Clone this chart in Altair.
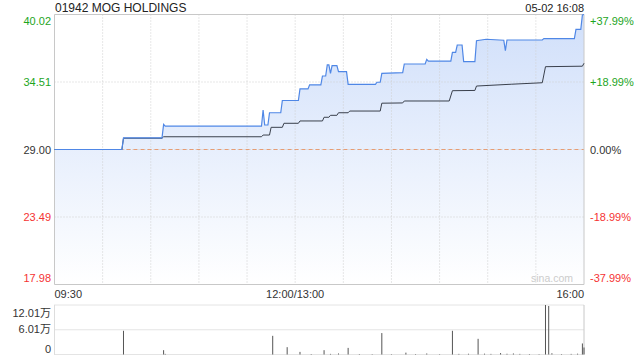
import altair as alt
import pandas as pd

FONT = "'Liberation Sans', Arial, 'Noto Sans CJK SC', sans-serif"

title_text = "01942 MOG HOLDINGS"
stamp_text = "05-02 16:08"
watermark_text = "sina.com"
prev_close = 29.00

# (minute since 09:30 on the trading clock, price)
price_points = [
    (0, 29.00), (42, 29.00), (43, 29.95), (67, 29.95), (68, 31.05), (69, 30.90),
    (129, 30.90), (130, 32.22), (131, 31.00), (133, 31.00), (134, 32.00), (141, 32.00),
    (142, 33.00), (152, 33.00), (153, 33.95), (158, 33.95), (159, 34.28), (166, 34.28),
    (167, 35.00), (169, 35.00), (170, 35.90), (171, 35.90), (172, 35.22), (173, 35.85),
    (176, 35.85), (177, 35.35), (182, 35.35), (183, 34.32), (200, 34.32), (201, 34.49),
    (203, 34.49), (204, 35.22), (217, 35.27), (218, 35.98), (231, 35.98), (232, 36.36),
    (233, 36.22), (247, 36.22), (248, 36.93), (250, 36.93), (251, 37.53), (254, 37.53),
    (255, 36.17), (262, 36.17), (263, 37.88), (269, 38.00), (280, 37.92), (281, 37.07),
    (282, 37.94), (304, 37.94), (305, 38.05), (324, 38.05), (325, 38.81), (328, 38.81),
    (329, 39.98), (330, 40.02),
]

avg_points = [
    (0, 29.00), (42, 29.00), (43, 29.92), (67, 29.92), (68, 30.04), (129, 30.04),
    (130, 30.18), (134, 30.18), (135, 30.81), (142, 30.81), (143, 31.14), (152, 31.14),
    (153, 31.33), (167, 31.33), (168, 31.63), (171, 31.63), (172, 31.79), (176, 31.79),
    (177, 32.00), (183, 32.00), (184, 32.14), (203, 32.14), (204, 32.78), (217, 32.80),
    (218, 32.96), (246, 32.96), (248, 33.80), (262, 33.82), (263, 34.18), (285, 34.33),
    (304, 34.45), (306, 35.76), (329, 35.80), (330, 36.04),
]

vol_points = [
    (43, 57500), (68, 10500), (69, 1500), (136, 45300), (145, 17800), (153, 6300),
    (160, 1200), (168, 10500), (172, 1500), (177, 2500), (183, 16000), (190, 1200),
    (198, 1000), (204, 52000), (210, 1000), (219, 4500), (225, 1200), (232, 2500),
    (240, 1000), (248, 57500), (252, 1500), (258, 1800), (264, 38000), (268, 2000),
    (272, 1500), (278, 3500), (282, 1800), (286, 2500), (290, 1500), (296, 1200),
    (302, 1000), (306, 120100), (308, 117700), (310, 3000), (316, 1200), (322, 1500),
    (326, 2000), (329, 26800), (330, 17000),
]

price_ticks = [40.02, 34.51, 29.00, 23.49, 17.98]
price_tick_labels = ["40.02", "34.51", "29.00", "23.49", "17.98"]
pct_tick_labels = ["+37.99%", "+18.99%", "0.00%", "-18.99%", "-37.99%"]
vol_ticks = [120100, 60050, 0]
vol_tick_labels = ["12.01万", "6.01万", "0"]
time_ticks = [0, 150, 330]
time_tick_labels = ["09:30", "12:00/13:00", "16:00"]
grid_minutes = [30, 60, 90, 120, 150, 180, 210, 240, 270, 300]

# ---- layout ----
X0, X1 = 54.5, 584
PY0, PY1 = 14.5, 284.5
VY0, VY1 = 305, 354.5
GREEN, RED, DARK = "#1da51d", "#f53333", "#333333"

xs = alt.Scale(domain=[0, 330], range=[X0, X1], nice=False, zero=False)
ps = alt.Scale(domain=[17.98, 40.02], range=[PY1, PY0], nice=False, zero=False)
vs = alt.Scale(domain=[0, 120100], range=[VY1, VY0], nice=False, zero=False)

price_df = pd.DataFrame(price_points, columns=["m", "p"])
avg_df = pd.DataFrame(avg_points, columns=["m", "p"])
vol_df = pd.DataFrame(vol_points, columns=["m", "v"])

n = len(price_ticks)
ptick_df = pd.DataFrame({
    "p": price_ticks,
    "label": price_tick_labels,
    "pct": pct_tick_labels,
    "sign": ["up" if v > prev_close else ("down" if v < prev_close else "flat") for v in price_ticks],
    "slot": ["top"] + ["mid"] * (n - 2) + ["bot"],
})
vtick_df = pd.DataFrame({
    "v": vol_ticks,
    "label": vol_tick_labels,
    "slot": ["top", "mid", "bot"],
})
time_df = pd.DataFrame({"m": time_ticks, "label": time_tick_labels, "slot": ["l", "c", "r"]})
grid_df = pd.DataFrame({"m": grid_minutes})
one = pd.DataFrame({"title": [title_text], "stamp": [stamp_text], "wm": [watermark_text], "pc": [prev_close]})

X = lambda f: alt.X(f, scale=xs, axis=None)
PY = lambda f: alt.Y(f, scale=ps, axis=None)
VY = lambda f: alt.Y(f, scale=vs, axis=None)
sign_color = alt.Color("sign:N", scale=alt.Scale(domain=["up", "flat", "down"], range=[GREEN, DARK, RED]), legend=None)

layers = []

# area under price
layers.append(
    alt.Chart(price_df).mark_area(
        color=alt.Gradient(
            gradient="linear",
            stops=[alt.GradientStop(color="#ffffff", offset=0), alt.GradientStop(color="#d0dffa", offset=1)],
            x1=1, x2=1, y1=1, y2=0,
        ),
    ).encode(x=X("m:Q"), y=PY("p:Q"), y2=alt.datum(17.98))
)

# vertical grid lines
layers.append(
    alt.Chart(grid_df).mark_rule(color="#cfcfcf", strokeDash=[1, 2], strokeWidth=1).encode(
        x=X("m:Q"), y=alt.value(PY0), y2=alt.value(PY1)
    )
)
# horizontal grid lines
layers.append(
    alt.Chart(ptick_df[ptick_df.slot != "top"][ptick_df.slot != "bot"]).mark_rule(
        color="#cfcfcf", strokeDash=[1, 2], strokeWidth=1
    ).encode(y=PY("p:Q"), x=alt.value(X0), x2=alt.value(X1))
)
# previous close dashed line
layers.append(
    alt.Chart(one).mark_rule(color="#e8905f", strokeDash=[4, 3], strokeWidth=1, opacity=0.85).encode(
        y=PY("pc:Q"), x=alt.value(X0 + 2), x2=alt.value(X1)
    )
)
# main border
layers.append(
    alt.Chart(one).mark_rect(filled=False, stroke="#c8c8c8", strokeWidth=1).encode(
        x=alt.value(X0), x2=alt.value(X1), y=alt.value(PY0), y2=alt.value(PY1)
    )
)
# average line
layers.append(
    alt.Chart(avg_df).mark_line(color="#3a404c", strokeWidth=1).encode(x=X("m:Q"), y=PY("p:Q"))
)
# price line
layers.append(
    alt.Chart(price_df).mark_line(color="#4f87e6", strokeWidth=1.2).encode(x=X("m:Q"), y=PY("p:Q"))
)

# price tick labels (left) and percentage labels (right)
for slot, dy in [("top", 10), ("mid", 4), ("bot", -3)]:
    sub = ptick_df[ptick_df.slot == slot]
    layers.append(
        alt.Chart(sub).mark_text(align="right", baseline="alphabetic", dy=dy, fontSize=11, font=FONT).encode(
            x=alt.value(51), y=PY("p:Q"), text="label:N", color=sign_color
        )
    )
    layers.append(
        alt.Chart(sub).mark_text(align="left", baseline="alphabetic", dy=dy, fontSize=11, font=FONT).encode(
            x=alt.value(590), y=PY("p:Q"), text="pct:N", color=sign_color
        )
    )

# time labels
for slot, align in [("l", "left"), ("c", "center"), ("r", "right")]:
    layers.append(
        alt.Chart(time_df[time_df.slot == slot]).mark_text(
            align=align, baseline="alphabetic", fontSize=11, font=FONT, color=DARK
        ).encode(x=X("m:Q"), y=alt.value(297.5), text="label:N")
    )

# watermark
layers.append(
    alt.Chart(one).mark_text(align="right", baseline="alphabetic", fontSize=10.5, font=FONT, color="#cccccc").encode(
        x=alt.value(573), y=alt.value(282), text="wm:N"
    )
)
# title and stamp
layers.append(
    alt.Chart(one).mark_text(align="left", baseline="alphabetic", fontSize=12, font=FONT, color="#222222").encode(
        x=alt.value(55), y=alt.value(12), text="title:N"
    )
)
layers.append(
    alt.Chart(one).mark_text(align="right", baseline="alphabetic", fontSize=11, font=FONT, color="#222222").encode(
        x=alt.value(584), y=alt.value(12), text="stamp:N"
    )
)

# ---- volume panel ----
layers.append(
    alt.Chart(vtick_df).mark_rule(color="#c8c8c8", strokeDash=[1, 1], strokeWidth=1).encode(
        y=VY("v:Q"), x=alt.value(X0), x2=alt.value(X1)
    )
)
layers.append(
    alt.Chart(one).mark_rule(color="#dddddd", strokeWidth=1).encode(
        x=alt.value(X0), y=alt.value(VY0), y2=alt.value(VY1)
    )
)
layers.append(
    alt.Chart(one).mark_rule(color="#c8c8c8", strokeWidth=1).encode(
        x=alt.value(X1), y=alt.value(VY0), y2=alt.value(VY1)
    )
)
layers.append(
    alt.Chart(vol_df).mark_rule(color="#555555", strokeWidth=1).encode(
        x=X("m:Q"), y=VY("v:Q"), y2=alt.datum(0)
    )
)
for slot, dy in [("top", 11.5), ("mid", 3.5), ("bot", -2)]:
    layers.append(
        alt.Chart(vtick_df[vtick_df.slot == slot]).mark_text(
            align="right", baseline="alphabetic", dy=dy, fontSize=11, font=FONT, color=DARK
        ).encode(x=alt.value(51), y=VY("v:Q"), text="label:N")
    )

chart = (
    alt.layer(*layers)
    .resolve_scale(y="independent")
    .properties(width=640, height=360, autosize=alt.AutoSizeParams(type="none"), padding=0)
    .configure_view(strokeWidth=0)
)

chart.save("out.html", embed_options={"renderer": "svg", "actions": False})
